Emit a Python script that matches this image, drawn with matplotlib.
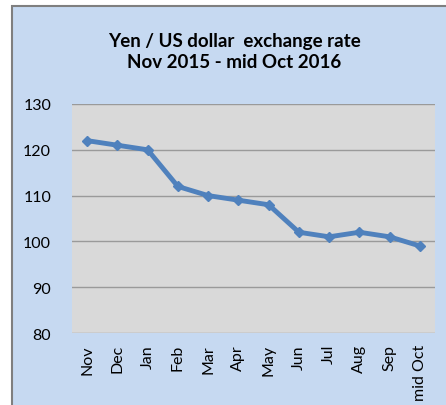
import matplotlib.pyplot as plt
from matplotlib.patches import Rectangle

months = ["Nov", "Dec", "Jan", "Feb", "Mar", "Apr", "May", "Jun", "Jul", "Aug", "Sep", "mid Oct"]
yen_per_usd = [122, 121, 120, 112, 110, 109, 108, 102, 101, 102, 101, 99]
y_ticks = [80, 90, 100, 110, 120, 130]

plt.rcParams['font.family'] = ['Lato', 'DejaVu Sans']

fig = plt.figure(figsize=(4.46, 4.06), dpi=100)
fig.patch.set_facecolor("white")

# blue chart box with grey border
W, H = 446, 406
box = Rectangle((12 / W, -0.05), 1.1, (H - 7) / H + 0.05, transform=fig.transFigure,
                facecolor="#C6D9F1", edgecolor="#7F7F7F", linewidth=1.5, zorder=-10)
fig.patches.append(box)

ax = fig.add_axes([72 / W, 1 - 334 / H, (435 - 72) / W, (334 - 105) / H])
ax.set_facecolor("#D9D9D9")

x = list(range(len(months)))
ax.plot(x, yen_per_usd, color="#4F81BD", linewidth=3.5, marker="D", markersize=5.5,
        solid_capstyle="round", zorder=3)

ax.set_xlim(-0.5, len(months) - 0.5)
ax.set_ylim(80, 130)
ax.set_yticks(y_ticks)
ax.set_xticks(x)
ax.set_xticklabels(months, rotation=90, fontsize=11.5, color="black")
ax.tick_params(axis="y", labelsize=11.5, length=0, pad=15, colors="black")
ax.tick_params(axis="x", length=0, pad=8)
ax.grid(axis="y", color="#9A9A9A", linewidth=1)
ax.set_axisbelow(True)
for s in ax.spines.values():
    s.set_visible(False)

fig.text(234 / W, 1 - 52 / H, "Yen / US dollar  exchange rate\nNov 2015 - mid Oct 2016",
         ha="center", va="center", fontsize=13.5, fontweight="bold", linespacing=1.25)

fig.savefig("out.png", dpi=100)
